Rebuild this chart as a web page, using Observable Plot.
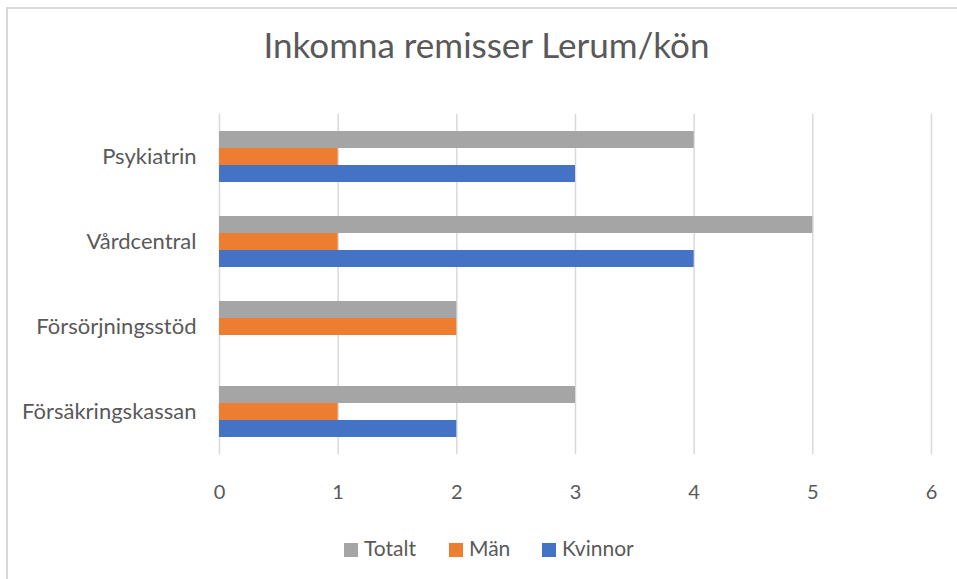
<!DOCTYPE html>
<html>
<head>
<meta charset="utf-8">
<script src="https://cdn.jsdelivr.net/npm/d3@7"></script>
<script src="https://cdn.jsdelivr.net/npm/@observablehq/plot@0.6"></script>
<style>
  html, body { margin: 0; padding: 0; background: #fff; overflow: hidden; }
  #wrap { position: relative; width: 957px; height: 579px; overflow: hidden; font-family: Lato, "Open Sans", sans-serif; color: #595959; }
  #frame { position: absolute; left: 6px; top: 7px; width: 1000px; height: 1000px; border: 2px solid #d9d9d9; box-sizing: border-box; }
  #title { position: absolute; left: 8px; top: 21px; width: 957px; text-align: center; font-size: 35px; line-height: 46px; }
  #chart { position: absolute; left: 0; top: 0; }
  .sw { position: absolute; top: 543px; width: 14px; height: 14px; }
  .lab { position: absolute; top: 536px; font-size: 21px; line-height: 24px; white-space: nowrap; }
</style>
</head>
<body>
<div id="wrap">
  <div id="frame"></div>
  <div id="chart"></div>
  <div id="title"></div>
  <div id="legend"></div>
</div>
<script>
const titleText = "Inkomna remisser Lerum/kön";
const categories = ["Psykiatrin", "Vårdcentral", "Försörjningsstöd", "Försäkringskassan"];
const series = ["Totalt", "Män", "Kvinnor"];
const totalt = [4, 5, 2, 3];
const man = [1, 1, 2, 1];
const kvinnor = [3, 4, 0, 2];
const colors = ["#A5A5A5", "#ED7D31", "#4472C4"];
const xTicks = [0, 1, 2, 3, 4, 5, 6];

const valuesBySeries = [totalt, man, kvinnor];
const rows = [];
categories.forEach((c, i) => {
  series.forEach((s, j) => {
    rows.push({category: c, series: s, value: valuesBySeries[j][i]});
  });
});

document.getElementById("title").textContent = titleText;

const chart = Plot.plot({
  width: 957,
  height: 520,
  marginTop: 112,
  marginBottom: 65,
  marginLeft: 219,
  marginRight: 26,
  style: {fontFamily: "Lato, 'Open Sans', sans-serif", fontSize: "20px", color: "#595959", background: "transparent", overflow: "visible"},
  x: {domain: [0, 6], ticks: xTicks, tickFormat: "d", tickSize: 0, tickPadding: 30, label: null},
  fy: {domain: categories, padding: 0, label: null, axis: "left", tickSize: 0, tickPadding: 23},
  y: {domain: series, axis: null, paddingInner: 0, paddingOuter: 0.936},
  color: {domain: series, range: colors},
  marks: [
    Plot.ruleX(xTicks, {stroke: "#d9d9d9", strokeWidth: 1.5}),
    Plot.barX(rows, {fy: "category", y: "series", x: "value", fill: "series"})
  ]
});
document.getElementById("chart").appendChild(chart);
// larger category labels
d3.select(chart).selectAll("g[aria-label='fy-axis tick label'] text, g[aria-label='fy-axis tick label']").style("font-size", "22px");

const legend = document.getElementById("legend");
const swatchX = [344, 449, 542];
series.forEach((s, j) => {
  const sw = document.createElement("div");
  sw.className = "sw";
  sw.style.left = swatchX[j] + "px";
  sw.style.background = colors[j];
  const label = document.createElement("div");
  label.className = "lab";
  label.style.left = (swatchX[j] + 20) + "px";
  label.textContent = s;
  legend.appendChild(sw);
  legend.appendChild(label);
});
</script>
</body>
</html>
